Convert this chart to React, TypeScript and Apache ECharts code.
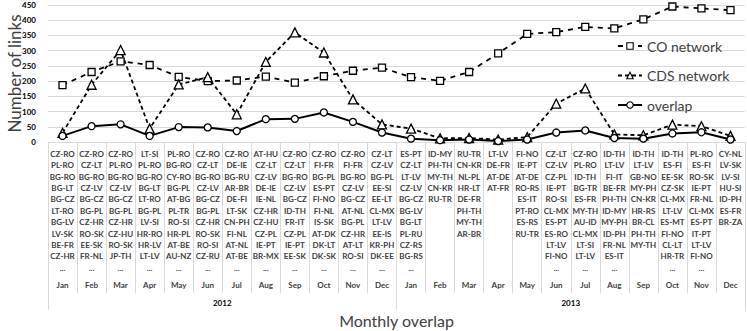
import React, { useEffect, useRef } from "react";
import * as echarts from "echarts";

const months = ["Jan","Feb","Mar","Apr","May","Jun","Jul","Aug","Sep","Oct","Nov","Dec","Jan","Feb","Mar","Apr","May","Jun","Jul","Aug","Sep","Oct","Nov","Dec"];
const years = ["2012", "2013"];

const coNetwork = [187,230,265,253,214,200,202,215,195,216,234,244, 213,201,230,291,355,361,378,373,403,445,439,433];
const cdsNetwork = [30,188,302,44,189,213,91,263,360,294,140,58, 44,12,13,8,16,126,176,25,22,57,52,20];
const overlap = [20,52,58,20,49,48,36,75,76,97,66,31, 11,6,8,3,8,31,38,13,11,28,32,8];

const pairs: string[][] = [
  ["CZ-RO","PL-RO","BG-RO","BG-LT","BG-CZ","LT-RO","BG-LV","LV-SK","BE-FR","CZ-HR"],
  ["CZ-RO","CZ-LT","BG-RO","CZ-LV","BG-CZ","BG-PL","CZ-HR","RO-SK","EE-SK","FR-NL"],
  ["CZ-RO","PL-RO","BG-RO","CZ-LV","BG-CZ","BG-PL","CZ-HR","CZ-HU","RO-SK","JP-TH"],
  ["LT-SI","PL-RO","BG-RO","BG-LT","LT-RO","BG-PL","LV-SI","HR-RO","HR-LV","LT-LV"],
  ["PL-RO","BG-RO","CY-RO","BG-PL","AT-BG","PL-TR","RO-SI","HR-PL","AT-BE","AU-NZ"],
  ["CZ-RO","CZ-LT","BG-RO","CZ-LV","BG-CZ","BG-PL","CZ-HR","RO-SK","RO-SI","CZ-RU"],
  ["CZ-RO","DE-IE","BG-RU","AR-BR","DE-FI","LT-SK","CN-PH","FI-NL","AT-NL","AT-BE"],
  ["AT-HU","CZ-LT","CZ-LV","DE-IE","IE-NL","CZ-HR","CZ-HU","CZ-PL","IE-PT","BR-MX"],
  ["CZ-RO","CZ-LT","BG-RO","CZ-LV","BG-CZ","ID-TH","FR-IT","CZ-PL","IE-PT","EE-SK"],
  ["CZ-RO","FI-FR","BG-PL","ES-PT","FI-NO","FI-NL","IS-SK","AT-DK","DK-LT","DK-SK"],
  ["CZ-RO","FI-FR","BG-RO","CZ-LV","BG-CZ","AT-NL","BG-PL","CZ-HR","AT-LT","RO-SI"],
  ["CZ-LT","CZ-LV","BG-PL","EE-SI","EE-LT","CL-MX","LT-LV","EE-IS","KR-PH","DK-EE"],
  ["ES-PT","CZ-LT","LT-LV","CZ-LV","BG-CZ","BG-LV","BG-LT","PL-RU","CZ-RS","BG-RS"],
  ["ID-MY","PH-TH","MY-TH","CN-KR","RU-TR"],
  ["RU-TR","CN-KR","NL-PL","HR-LT","DE-FR","PH-TH","MY-TH","AR-BR"],
  ["LT-LV","DE-FR","AT-DE","AT-FR"],
  ["FI-NO","IE-PT","AT-DE","RO-RS","ES-IT","PT-RO","ES-RS","RU-TR"],
  ["CZ-LT","CZ-LV","CZ-PL","IE-PT","RO-SI","CL-MX","ES-PT","ES-RO","LT-LV","FI-NO"],
  ["CZ-RO","PL-RO","ID-TH","BG-TR","ES-FR","MY-TH","AU-ID","CL-MX","LT-SI","LT-LV"],
  ["ID-TH","LT-LV","FI-IT","BE-FR","PH-TH","ID-MY","MY-PH","ID-PH","FR-NL","ES-IT"],
  ["ID-TH","LT-LV","GB-NO","MY-PH","CN-KR","HR-RS","BR-CL","PH-TH","MY-TH"],
  ["ID-TH","ES-FI","EE-SK","CZ-SK","CL-MX","LT-LV","ES-MT","FI-NO","CL-LT","HR-TR"],
  ["PL-RO","ES-FI","RO-SK","IE-PT","FR-NL","CL-MX","ES-PT","IT-PT","LT-LV","FI-NO"],
  ["CY-NL","LV-SK","LV-SI","HU-SI","ID-PH","ES-FR","BR-ZA"],
];
const truncated = [true,true,true,true,true,true,true,true,true,true,true,true, true,false,false,false,false,true,true,true,false,true,true,false];

const FONT = "Lato";
const GRID_COLOR = "#d9d9d9";

export default function App() {
  const ref = useRef<HTMLDivElement>(null);
  useEffect(() => {
    if (!ref.current) return;
    const chart = echarts.init(ref.current, null, { renderer: "svg" });
    const keys = months.map((m, i) => `${years[i < 12 ? 0 : 1]}-${m}`);
    const labelFor = (_v: string, i: number) => {
      const lines = pairs[i].map((p) => `{p|${p}}`);
      if (truncated[i]) lines.push("{p|...}");
      while (lines.length < 11) lines.push("{p| }");
      lines.push(`{m|${months[i]}}`);
      return lines.join("\n");
    };
    const baseSeries = {
      type: "line" as const,
      symbolSize: 7,
      itemStyle: { color: "#fff", borderColor: "#000", borderWidth: 1.3 },
      z: 3,
    };
    chart.setOption({
      animation: false,
      textStyle: { fontFamily: FONT },
      grid: { left: 48, right: 2, top: 5, bottom: 189, outerBoundsMode: "none", containLabel: false },
      legend: {
        orient: "vertical",
        left: 612,
        top: 34,
        itemWidth: 24,
        itemHeight: 8,
        itemGap: 15.5,
        itemStyle: { borderWidth: 1.1 },
        textStyle: { fontFamily: FONT, fontSize: 14, color: "#404040" },
        data: ["CO network", "CDS network", "overlap"],
      },
      xAxis: [
        {
          type: "category",
          data: keys,
          position: "bottom",
          axisLine: { lineStyle: { color: GRID_COLOR } },
          axisTick: { show: true, length: 151, lineStyle: { color: GRID_COLOR } },
          axisLabel: {
            interval: 0,
            margin: 6,
            formatter: labelFor,
            rich: {
              p: { fontFamily: FONT, fontSize: 8, fontWeight: "bold", color: "#404040", lineHeight: 11.4 },
              m: { fontFamily: FONT, fontSize: 8, fontWeight: "bold", color: "#404040", lineHeight: 24 },
            },
          },
          name: "Monthly overlap",
          nameLocation: "middle",
          nameGap: 170,
          nameMoveOverlap: false,
          nameTextStyle: { fontFamily: FONT, fontSize: 16, color: "#404040" },
        },
        {
          type: "category",
          data: years,
          position: "bottom",
          axisLine: { show: false },
          axisTick: { show: true, length: 168, lineStyle: { color: GRID_COLOR } },
          axisLabel: {
            interval: 0,
            margin: 157,
            fontFamily: FONT,
            fontSize: 8,
            fontWeight: "bold",
            color: "#000",
          },
        },
      ],
      yAxis: {
        type: "value",
        min: 0,
        max: 450,
        interval: 50,
        axisLine: { show: false },
        axisTick: { show: false },
        splitLine: { lineStyle: { color: GRID_COLOR } },
        axisLabel: { fontFamily: FONT, fontSize: 8, fontWeight: "bold", color: "#000", margin: 12 },
        name: "Number of links",
        nameLocation: "middle",
        nameGap: 25,
        nameMoveOverlap: false,
        nameTextStyle: { fontFamily: FONT, fontSize: 17, color: "#404040" },
      },
      series: [
        {
          ...baseSeries,
          name: "CO network",
          data: coNetwork,
          symbol: "rect",
          lineStyle: { color: "#000", width: 1.8, type: [5, 5] },
        },
        {
          ...baseSeries,
          name: "CDS network",
          data: cdsNetwork,
          symbol: "triangle",
          symbolSize: 9,
          lineStyle: { color: "#000", width: 1.8, type: [4, 3] },
        },
        {
          ...baseSeries,
          name: "overlap",
          data: overlap,
          symbol: "circle",
          lineStyle: { color: "#000", width: 2, type: "solid" },
        },
      ],
    });
    return () => chart.dispose();
  }, []);
  return <div ref={ref} style={{ width: 747, height: 331, position: "absolute", left: 0, top: 0 }} />;
}
